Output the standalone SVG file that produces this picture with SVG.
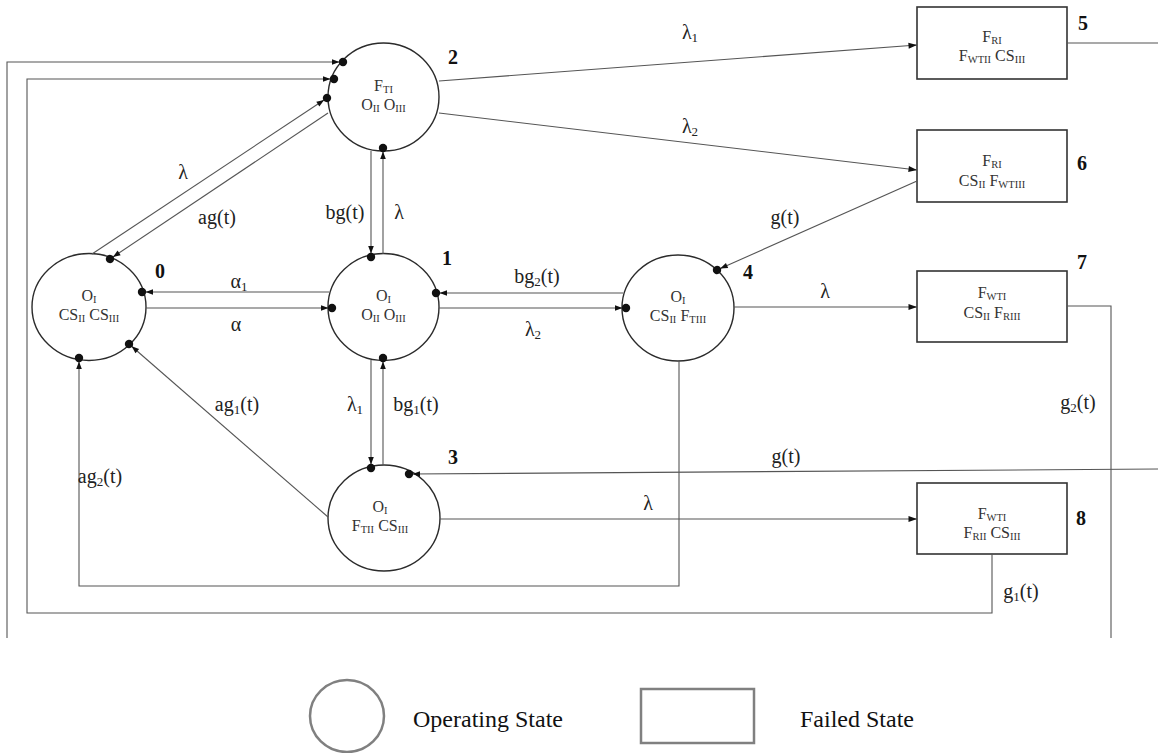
<svg xmlns="http://www.w3.org/2000/svg" width="1158" height="753" viewBox="0 0 1158 753">
  <style>
    .st { fill: #ffffff; stroke: #2b2b2b; stroke-width: 1.4; }
    .bx { fill: #ffffff; stroke: #333333; stroke-width: 1.6; }
    .nt { font-family: "Liberation Serif", "Times New Roman", serif; font-size: 16px; fill: #333333; text-anchor: middle; }
    .sb { font-size: 10.5px; }
    .num { font-family: "Liberation Serif", "Times New Roman", serif; font-size: 20px; font-weight: bold; fill: #111111; text-anchor: middle; }
    .lb { font-family: "Liberation Serif", "Times New Roman", serif; font-size: 20px; fill: #222222; text-anchor: middle; }
    .ls { font-size: 13px; }
    .cn { fill: none; stroke: #555555; stroke-width: 1.1; }
    .lg { fill: none; stroke: #808080; stroke-width: 2.5; }
    .lt { font-family: "Liberation Serif", "Times New Roman", serif; font-size: 24px; fill: #111111; }
  </style>
  <defs>
    <!-- arrowhead followed by a filled dot on the target circle -->
    <marker id="ad" markerUnits="userSpaceOnUse" markerWidth="22" markerHeight="12" refX="16" refY="6" orient="auto" overflow="visible">
      <path d="M5,3.2 L12.5,6 L5,8.8 z" fill="#111111"/>
      <circle cx="16" cy="6" r="4.2" fill="#111111"/>
    </marker>
    <!-- plain arrowhead -->
    <marker id="ar" markerUnits="userSpaceOnUse" markerWidth="10" markerHeight="8" refX="8.5" refY="3" orient="auto" overflow="visible">
      <path d="M0,0 L8.5,3 L0,6 z" fill="#111111"/>
    </marker>
  </defs>

  <g id="state0">
    <ellipse class="st" cx="89" cy="307" rx="57" ry="53.5"/>
    <text class="nt" x="89" y="301">O<tspan class="sb" dy="2">I</tspan></text>
    <text class="nt" x="89" y="320">CS<tspan class="sb" dy="2">II</tspan><tspan dy="-2"> CS</tspan><tspan class="sb" dy="2">III</tspan></text>
    <text class="num" x="160" y="278">0</text>
  </g>
  <g id="state1">
    <ellipse class="st" cx="383.5" cy="307" rx="55.5" ry="53.5"/>
    <text class="nt" x="383.5" y="301">O<tspan class="sb" dy="2">I</tspan></text>
    <text class="nt" x="383.5" y="320">O<tspan class="sb" dy="2">II</tspan><tspan dy="-2"> O</tspan><tspan class="sb" dy="2">III</tspan></text>
    <text class="num" x="447" y="265">1</text>
  </g>
  <g id="state2">
    <ellipse class="st" cx="383.5" cy="97" rx="55.5" ry="54"/>
    <text class="nt" x="383.5" y="91">F<tspan class="sb" dy="2">TI</tspan></text>
    <text class="nt" x="383.5" y="110">O<tspan class="sb" dy="2">II</tspan><tspan dy="-2"> O</tspan><tspan class="sb" dy="2">III</tspan></text>
    <text class="num" x="453" y="64">2</text>
  </g>
  <g id="state3">
    <ellipse class="st" cx="384" cy="518" rx="56" ry="53"/>
    <text class="nt" x="380" y="512">O<tspan class="sb" dy="2">I</tspan></text>
    <text class="nt" x="380" y="531">F<tspan class="sb" dy="2">TII</tspan><tspan dy="-2"> CS</tspan><tspan class="sb" dy="2">III</tspan></text>
    <text class="num" x="453" y="464">3</text>
  </g>
  <g id="state4">
    <ellipse class="st" cx="678" cy="308" rx="56" ry="53"/>
    <text class="nt" x="678" y="302">O<tspan class="sb" dy="2">I</tspan></text>
    <text class="nt" x="678" y="321">CS<tspan class="sb" dy="2">II</tspan><tspan dy="-2"> F</tspan><tspan class="sb" dy="2">TIII</tspan></text>
    <text class="num" x="748" y="279">4</text>
  </g>
  <g id="state5">
    <rect class="bx" x="917" y="7" width="150" height="72"/>
    <text class="nt" x="992" y="42">F<tspan class="sb" dy="2">RI</tspan></text>
    <text class="nt" x="992" y="61">F<tspan class="sb" dy="2">WTII</tspan><tspan dy="-2"> CS</tspan><tspan class="sb" dy="2">III</tspan></text>
    <text class="num" x="1083" y="30">5</text>
  </g>
  <g id="state6">
    <rect class="bx" x="917" y="130" width="150" height="72"/>
    <text class="nt" x="992" y="166">F<tspan class="sb" dy="2">RI</tspan></text>
    <text class="nt" x="992" y="186">CS<tspan class="sb" dy="2">II</tspan><tspan dy="-2"> F</tspan><tspan class="sb" dy="2">WTIII</tspan></text>
    <text class="num" x="1082" y="170">6</text>
  </g>
  <g id="state7">
    <rect class="bx" x="917" y="271" width="150" height="71"/>
    <text class="nt" x="992" y="298">F<tspan class="sb" dy="2">WTI</tspan></text>
    <text class="nt" x="992" y="318">CS<tspan class="sb" dy="2">II</tspan><tspan dy="-2"> F</tspan><tspan class="sb" dy="2">RIII</tspan></text>
    <text class="num" x="1082" y="269">7</text>
  </g>
  <g id="state8">
    <rect class="bx" x="917" y="483" width="150" height="71"/>
    <text class="nt" x="992" y="519">F<tspan class="sb" dy="2">WTI</tspan></text>
    <text class="nt" x="992" y="538">F<tspan class="sb" dy="2">RII</tspan><tspan dy="-2"> CS</tspan><tspan class="sb" dy="2">III</tspan></text>
    <text class="num" x="1081" y="525">8</text>
  </g>

  <!-- transitions are drawn over the states so the end dots stay visible -->
  <g id="connectors">
    <!-- outer return line into state 2 -->
    <path class="cn" d="M7,638 V62 H343" marker-end="url(#ad)"/>
    <path class="cn" d="M1067,43 H1158"/>
    <!-- g1(t): state 8 back to state 2 -->
    <path class="cn" d="M992,554 V613 H27 V79 H334" marker-end="url(#ad)"/>
    <!-- ag2(t): state 4 back to state 0 -->
    <path class="cn" d="M679,361 V586 H79 V358" marker-end="url(#ad)"/>
    <!-- g(t) into state 3 -->
    <path class="cn" d="M1158,469 L409,474" marker-end="url(#ad)"/>
    <!-- g2(t) from state 7 -->
    <path class="cn" d="M1067,306 H1111 V638"/>
    <!-- state 2 to failed states -->
    <path class="cn" d="M439,81 L917,45" marker-end="url(#ar)"/>
    <path class="cn" d="M439,113 L917,170" marker-end="url(#ar)"/>
    <!-- g(t): state 6 to state 4 -->
    <path class="cn" d="M917,181 L717,270" marker-end="url(#ad)"/>
    <!-- state 4 to state 7 -->
    <path class="cn" d="M734,307 H917" marker-end="url(#ar)"/>
    <!-- between states 1 and 4 -->
    <path class="cn" d="M623,293 H436" marker-end="url(#ad)"/>
    <path class="cn" d="M439,308 H626" marker-end="url(#ad)"/>
    <!-- between states 0 and 1 -->
    <path class="cn" d="M329,292 H142" marker-end="url(#ad)"/>
    <path class="cn" d="M146,308 H332" marker-end="url(#ad)"/>
    <!-- between states 2 and 1 -->
    <path class="cn" d="M371,151 V257" marker-end="url(#ad)"/>
    <path class="cn" d="M383,254 V148" marker-end="url(#ad)"/>
    <!-- between states 1 and 3 -->
    <path class="cn" d="M371,360 V468" marker-end="url(#ad)"/>
    <path class="cn" d="M383,465 V358" marker-end="url(#ad)"/>
    <!-- between states 0 and 2 -->
    <path class="cn" d="M92,254 L327,98" marker-end="url(#ad)"/>
    <path class="cn" d="M328,113 L110,259" marker-end="url(#ad)"/>
    <!-- ag1(t): state 3 to state 0 -->
    <path class="cn" d="M328,517 L129,344" marker-end="url(#ad)"/>
    <!-- state 3 to state 8 -->
    <path class="cn" d="M440,519 H917" marker-end="url(#ar)"/>
  </g>

  <g id="labels">
    <text class="lb" x="690" y="39">λ<tspan class="ls" dy="3">1</tspan></text>
    <text class="lb" x="690" y="133">λ<tspan class="ls" dy="3">2</tspan></text>
    <text class="lb" x="785" y="224">g(t)</text>
    <text class="lb" x="183" y="179">λ</text>
    <text class="lb" x="217" y="224">ag(t)</text>
    <text class="lb" x="345" y="219">bg(t)</text>
    <text class="lb" x="399" y="219">λ</text>
    <text class="lb" x="239" y="288">α<tspan class="ls" dy="3">1</tspan></text>
    <text class="lb" x="236" y="331">α</text>
    <text class="lb" x="537" y="283">bg<tspan class="ls" dy="3">2</tspan><tspan dy="-3">(t)</tspan></text>
    <text class="lb" x="533" y="336">λ<tspan class="ls" dy="3">2</tspan></text>
    <text class="lb" x="825" y="298">λ</text>
    <text class="lb" x="355" y="411">λ<tspan class="ls" dy="3">1</tspan></text>
    <text class="lb" x="416" y="411">bg<tspan class="ls" dy="3">1</tspan><tspan dy="-3">(t)</tspan></text>
    <text class="lb" x="237" y="411">ag<tspan class="ls" dy="3">1</tspan><tspan dy="-3">(t)</tspan></text>
    <text class="lb" x="1078" y="409">g<tspan class="ls" dy="3">2</tspan><tspan dy="-3">(t)</tspan></text>
    <text class="lb" x="786" y="463">g(t)</text>
    <text class="lb" x="100" y="483">ag<tspan class="ls" dy="3">2</tspan><tspan dy="-3">(t)</tspan></text>
    <text class="lb" x="648" y="510">λ</text>
    <text class="lb" x="1021" y="598">g<tspan class="ls" dy="3">1</tspan><tspan dy="-3">(t)</tspan></text>
  </g>

  <g id="legend">
    <ellipse class="lg" cx="347" cy="716" rx="37" ry="36"/>
    <text class="lt" x="413" y="727">Operating State</text>
    <rect class="lg" x="641" y="689" width="113" height="54"/>
    <text class="lt" x="800" y="727">Failed State</text>
  </g>
</svg>
